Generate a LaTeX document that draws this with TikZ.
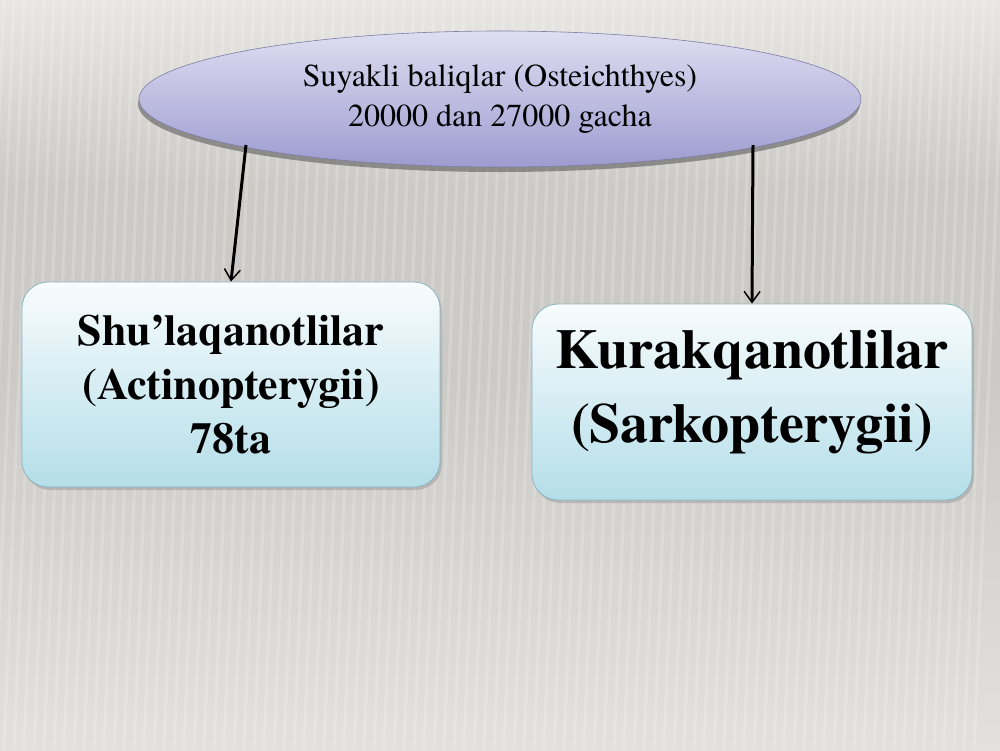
\documentclass[tikz,border=0pt]{standalone}
\usepackage{fontspec}
\newfontfamily\tnr{texgyretermes}[Extension=.otf, UprightFont=*-regular, BoldFont=*-bold, ItalicFont=*-italic, BoldItalicFont=*-bolditalic]
\setmainfont{texgyretermes}[Extension=.otf, UprightFont=*-regular, BoldFont=*-bold, ItalicFont=*-italic, BoldItalicFont=*-bolditalic]
\usetikzlibrary{arrows.meta,shadows,shapes.geometric,calc}
\definecolor{bgtop}{RGB}{232,231,227}
\definecolor{bgmid}{RGB}{203,202,198}
\definecolor{bgbot}{RGB}{226,225,221}
\definecolor{elltop}{RGB}{222,222,242}
\definecolor{ellbot}{RGB}{158,156,208}
\definecolor{boxtop}{RGB}{248,252,253}
\definecolor{boxbot}{RGB}{180,222,233}
\definecolor{boxline}{RGB}{140,182,194}
\tikzset{
  ovalbox/.style={ellipse, minimum width=722, minimum height=136, inner sep=0pt,
    top color=elltop, bottom color=ellbot, draw=ellbot!80!black, line width=0.6pt,
    drop shadow={shadow xshift=-1pt, shadow yshift=-5pt, fill=black!60, opacity=0.65},
    align=center, font=\tnr\fontsize{32}{40}\selectfont},
  groupbox/.style={rounded corners=26, top color=boxtop, bottom color=boxbot,
    draw=boxline, line width=0.8pt, align=center,
    drop shadow={shadow xshift=2pt, shadow yshift=-3pt, fill=black!40, opacity=0.5}},
  link/.style={draw=black, line width=3pt, -{Straight Barb[length=11pt,width=16pt,line width=1.5pt]}}
}
\begin{document}
\begin{tikzpicture}[x=1pt,y=-1pt]
\useasboundingbox (0,0) rectangle (1000,750);
\shade[top color=bgtop, bottom color=bgmid, middle color=bgmid] (0,0) rectangle (1000,375);
\shade[top color=bgmid, bottom color=bgbot] (0,375) rectangle (1000,750);
\foreach \i in {0,...,100} {
  \draw[white, opacity=0.18, line width=3pt] (\i*10+4,0) -- (\i*10-26,750);
}
\node[ovalbox] (top) at (500,99) {Suyakli baliqlar (Osteichthyes)\\20000 dan 27000 gacha};
\node[groupbox, minimum width=418, minimum height=205,
  font=\tnr\bfseries\fontsize{44}{54}\selectfont] (l) at (231,384.5)
  {Shu’laqanotlilar\\(Actinopterygii)\\78ta};
\node[groupbox, minimum width=440, minimum height=196,
  font=\tnr\bfseries\fontsize{56}{74}\selectfont] (r) at (752,402)
  {Kurakqanotlilar\\(Sarkopterygii)\rule[-32pt]{0pt}{0pt}};
\draw[link] ($(top.center)+(-254,46)$) -- (l.north);
\draw[link] ($(top.center)+(253,46)$) -- (r.north);
\end{tikzpicture}
\end{document}
